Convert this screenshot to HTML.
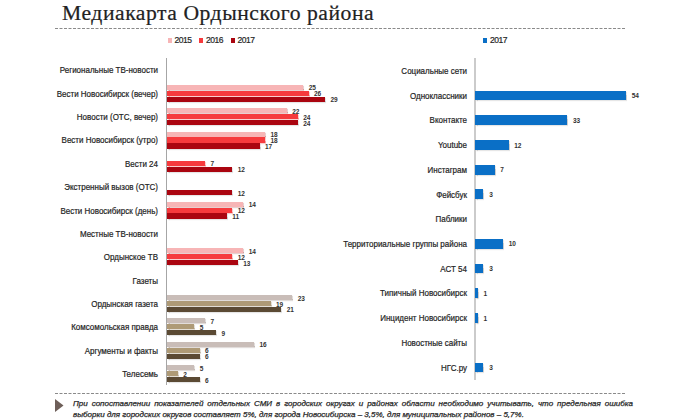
<!DOCTYPE html>
<html><head><meta charset="utf-8"><style>
html,body{margin:0;padding:0;background:#fff;}
body{width:680px;height:420px;position:relative;overflow:hidden;font-family:"Liberation Sans",sans-serif;color:#262626;}
div{position:absolute;}
.t{white-space:nowrap;line-height:1;}
.lab{transform:scaleX(0.94);transform-origin:100% 50%;color:#1e1e1e;-webkit-text-stroke:0.2px #1e1e1e;font-size:8.5px;text-align:right;width:200px;white-space:nowrap;line-height:10px;height:10px;}
.v{z-index:2;font-size:6.5px;line-height:8px;height:8px;white-space:nowrap;color:#333;font-weight:bold;letter-spacing:-0.1px;}
.b{box-shadow:0.5px 1px 1px rgba(0,0,0,0.2);}
</style></head><body>

<div class="t" style="left:62px;top:3.4px;font-family:'Liberation Serif',serif;font-size:20.5px;letter-spacing:0.5px;transform:scaleX(1.056);transform-origin:0 0;color:#222;-webkit-text-stroke:0.2px #222;">Медиакарта Ордынского района</div>
<svg width="680" height="420" style="position:absolute;left:0;top:0">
<line x1="55" y1="28.5" x2="626" y2="28.5" stroke="#8a8a8a" stroke-width="1" stroke-dasharray="3 1.5"/>
<line x1="55" y1="393.5" x2="626" y2="393.5" stroke="#8a8a8a" stroke-width="1" stroke-dasharray="3 1.5"/>
<polygon points="55,399 63.5,405.5 55,412" fill="#6e5f59"/>
</svg>
<div style="left:167.6px;top:38px;width:4.2px;height:4.6px;background:#f7b5b6"></div>
<div class="t" style="left:174.6px;top:36px;font-size:8.5px;letter-spacing:-0.5px;color:#262626;-webkit-text-stroke:0.2px #262626;">2015</div>
<div style="left:199px;top:38px;width:4.2px;height:4.6px;background:#f63a3d"></div>
<div class="t" style="left:206px;top:36px;font-size:8.5px;letter-spacing:-0.5px;color:#262626;-webkit-text-stroke:0.2px #262626;">2016</div>
<div style="left:230.6px;top:38px;width:4.2px;height:4.6px;background:#aa0510"></div>
<div class="t" style="left:237.6px;top:36px;font-size:8.5px;letter-spacing:-0.5px;color:#262626;-webkit-text-stroke:0.2px #262626;">2017</div>
<div style="left:483px;top:38px;width:4.2px;height:4.6px;background:#0a6fc6"></div>
<div class="t" style="left:490px;top:36px;font-size:8.5px;letter-spacing:-0.5px;color:#262626;-webkit-text-stroke:0.2px #262626;">2017</div>
<div style="left:166px;top:58px;width:1px;height:327px;background:#a6a6a6"></div>
<div style="left:474px;top:58px;width:2px;height:321.5px;background:#cbcbcb"></div>
<div class="lab" style="left:-42px;top:65.38px">Региональные ТВ-новости</div>
<div class="lab" style="left:-42px;top:88.74px">Вести Новосибирск (вечер)</div>
<div style="left:167px;top:84.79px;width:136.25px;height:5.1px;background:#f7b5b6;box-shadow:0.5px 1px 1px rgba(170,80,80,0.55)"></div>
<div class="v" style="left:308.65px;top:84.34px">25</div>
<div style="left:167px;top:90.74px;width:141.7px;height:5.1px;background:#f63a3d;box-shadow:0.5px 1px 1px rgba(235,90,90,0.6)"></div>
<div class="v" style="left:314.1px;top:90.29px">26</div>
<div style="left:167px;top:96.69px;width:158.05px;height:5.1px;background:#aa0510;box-shadow:0.5px 1px 1px rgba(0,0,0,0.2)"></div>
<div class="v" style="left:330.45px;top:96.24px">29</div>
<div class="lab" style="left:-42px;top:112.1px">Новости (ОТС, вечер)</div>
<div style="left:167px;top:108.15px;width:119.9px;height:5.1px;background:#f7b5b6;box-shadow:0.5px 1px 1px rgba(170,80,80,0.55)"></div>
<div class="v" style="left:292.3px;top:107.7px">22</div>
<div style="left:167px;top:114.1px;width:130.8px;height:5.1px;background:#f63a3d;box-shadow:0.5px 1px 1px rgba(235,90,90,0.6)"></div>
<div class="v" style="left:303.2px;top:113.65px">24</div>
<div style="left:167px;top:120.05px;width:130.8px;height:5.1px;background:#aa0510;box-shadow:0.5px 1px 1px rgba(0,0,0,0.2)"></div>
<div class="v" style="left:303.2px;top:119.6px">24</div>
<div class="lab" style="left:-42px;top:135.46px">Вести Новосибирск (утро)</div>
<div style="left:167px;top:131.51px;width:98.1px;height:5.1px;background:#f7b5b6;box-shadow:0.5px 1px 1px rgba(170,80,80,0.55)"></div>
<div class="v" style="left:270.5px;top:131.06px">18</div>
<div style="left:167px;top:137.46px;width:98.1px;height:5.1px;background:#f63a3d;box-shadow:0.5px 1px 1px rgba(235,90,90,0.6)"></div>
<div class="v" style="left:270.5px;top:137.01px">18</div>
<div style="left:167px;top:143.41px;width:92.65px;height:5.1px;background:#aa0510;box-shadow:0.5px 1px 1px rgba(0,0,0,0.2)"></div>
<div class="v" style="left:265.05px;top:142.96px">17</div>
<div class="lab" style="left:-42px;top:158.82px">Вести 24</div>
<div style="left:167px;top:160.82px;width:38.15px;height:5.1px;background:#f63a3d;box-shadow:0.5px 1px 1px rgba(235,90,90,0.6)"></div>
<div class="v" style="left:210.55px;top:160.37px">7</div>
<div style="left:167px;top:166.77px;width:65.4px;height:5.1px;background:#aa0510;box-shadow:0.5px 1px 1px rgba(0,0,0,0.2)"></div>
<div class="v" style="left:237.8px;top:166.32px">12</div>
<div class="lab" style="left:-42px;top:182.18px">Экстренный вызов (ОТС)</div>
<div style="left:167px;top:190.13px;width:65.4px;height:5.1px;background:#aa0510;box-shadow:0.5px 1px 1px rgba(0,0,0,0.2)"></div>
<div class="v" style="left:237.8px;top:189.68px">12</div>
<div class="lab" style="left:-42px;top:205.54px">Вести Новосибирск (день)</div>
<div style="left:167px;top:201.59px;width:76.3px;height:5.1px;background:#f7b5b6;box-shadow:0.5px 1px 1px rgba(170,80,80,0.55)"></div>
<div class="v" style="left:248.7px;top:201.14px">14</div>
<div style="left:167px;top:207.54px;width:65.4px;height:5.1px;background:#f63a3d;box-shadow:0.5px 1px 1px rgba(235,90,90,0.6)"></div>
<div class="v" style="left:237.8px;top:207.09px">12</div>
<div style="left:167px;top:213.49px;width:59.95px;height:5.1px;background:#aa0510;box-shadow:0.5px 1px 1px rgba(0,0,0,0.2)"></div>
<div class="v" style="left:232.35px;top:213.04px">11</div>
<div class="lab" style="left:-42px;top:228.9px">Местные ТВ-новости</div>
<div class="lab" style="left:-42px;top:252.26px">Ордынское ТВ</div>
<div style="left:167px;top:248.31px;width:76.3px;height:5.1px;background:#f7b5b6;box-shadow:0.5px 1px 1px rgba(170,80,80,0.55)"></div>
<div class="v" style="left:248.7px;top:247.86px">14</div>
<div style="left:167px;top:254.26px;width:65.4px;height:5.1px;background:#f63a3d;box-shadow:0.5px 1px 1px rgba(235,90,90,0.6)"></div>
<div class="v" style="left:237.8px;top:253.81px">12</div>
<div style="left:167px;top:260.21px;width:70.85px;height:5.1px;background:#aa0510;box-shadow:0.5px 1px 1px rgba(0,0,0,0.2)"></div>
<div class="v" style="left:243.25px;top:259.76px">13</div>
<div class="lab" style="left:-42px;top:275.62px">Газеты</div>
<div class="lab" style="left:-42px;top:298.98px">Ордынская газета</div>
<div style="left:167px;top:295.03px;width:125.35px;height:5.1px;background:#c9bdb8;box-shadow:0.5px 1px 1px rgba(120,100,90,0.45)"></div>
<div class="v" style="left:297.75px;top:294.58px">23</div>
<div style="left:167px;top:300.98px;width:103.55px;height:5.1px;background:#ae9a76;box-shadow:0.5px 1px 1px rgba(140,120,90,0.5)"></div>
<div class="v" style="left:275.95px;top:300.53px">19</div>
<div style="left:167px;top:306.93px;width:114.45px;height:5.1px;background:#5b4a34;box-shadow:0.5px 1px 1px rgba(0,0,0,0.2)"></div>
<div class="v" style="left:286.85px;top:306.48px">21</div>
<div class="lab" style="left:-42px;top:322.34px">Комсомольская правда</div>
<div style="left:167px;top:318.39px;width:38.15px;height:5.1px;background:#c9bdb8;box-shadow:0.5px 1px 1px rgba(120,100,90,0.45)"></div>
<div class="v" style="left:210.55px;top:317.94px">7</div>
<div style="left:167px;top:324.34px;width:27.25px;height:5.1px;background:#ae9a76;box-shadow:0.5px 1px 1px rgba(140,120,90,0.5)"></div>
<div class="v" style="left:199.65px;top:323.89px">5</div>
<div style="left:167px;top:330.29px;width:49.05px;height:5.1px;background:#5b4a34;box-shadow:0.5px 1px 1px rgba(0,0,0,0.2)"></div>
<div class="v" style="left:221.45px;top:329.84px">9</div>
<div class="lab" style="left:-42px;top:345.7px">Аргументы и факты</div>
<div style="left:167px;top:341.75px;width:87.2px;height:5.1px;background:#c9bdb8;box-shadow:0.5px 1px 1px rgba(120,100,90,0.45)"></div>
<div class="v" style="left:259.6px;top:341.3px">16</div>
<div style="left:167px;top:347.7px;width:32.7px;height:5.1px;background:#ae9a76;box-shadow:0.5px 1px 1px rgba(140,120,90,0.5)"></div>
<div class="v" style="left:205.1px;top:347.25px">6</div>
<div style="left:167px;top:353.65px;width:32.7px;height:5.1px;background:#5b4a34;box-shadow:0.5px 1px 1px rgba(0,0,0,0.2)"></div>
<div class="v" style="left:205.1px;top:353.2px">6</div>
<div class="lab" style="left:-42px;top:369.06px">Телесемь</div>
<div style="left:167px;top:365.11px;width:27.25px;height:5.1px;background:#c9bdb8;box-shadow:0.5px 1px 1px rgba(120,100,90,0.45)"></div>
<div class="v" style="left:199.65px;top:364.66px">5</div>
<div style="left:167px;top:371.06px;width:10.9px;height:5.1px;background:#ae9a76;box-shadow:0.5px 1px 1px rgba(140,120,90,0.5)"></div>
<div class="v" style="left:183.3px;top:370.61px">2</div>
<div style="left:167px;top:377.01px;width:32.7px;height:5.1px;background:#5b4a34;box-shadow:0.5px 1px 1px rgba(0,0,0,0.2)"></div>
<div class="v" style="left:205.1px;top:376.56px">6</div>
<div class="lab" style="left:267px;top:65.865px">Социальные сети</div>
<div class="lab" style="left:267px;top:90.595px">Одноклассники</div>
<div class="b" style="left:475px;top:90.545px;width:150.984px;height:9.8px;background:#0a6fc6"></div>
<div class="v" style="left:631.784px;top:92.095px">54</div>
<div class="lab" style="left:267px;top:115.325px">Вконтакте</div>
<div class="b" style="left:475px;top:115.275px;width:92.268px;height:9.8px;background:#0a6fc6"></div>
<div class="v" style="left:573.068px;top:116.825px">33</div>
<div class="lab" style="left:267px;top:140.055px">Youtube</div>
<div class="b" style="left:475px;top:140.005px;width:33.552px;height:9.8px;background:#0a6fc6"></div>
<div class="v" style="left:514.352px;top:141.555px">12</div>
<div class="lab" style="left:267px;top:164.785px">Инстаграм</div>
<div class="b" style="left:475px;top:164.735px;width:19.572px;height:9.8px;background:#0a6fc6"></div>
<div class="v" style="left:500.372px;top:166.285px">7</div>
<div class="lab" style="left:267px;top:189.515px">Фейсбук</div>
<div class="b" style="left:475px;top:189.465px;width:8.388px;height:9.8px;background:#0a6fc6"></div>
<div class="v" style="left:489.188px;top:191.015px">3</div>
<div class="lab" style="left:267px;top:214.245px">Паблики</div>
<div class="lab" style="left:267px;top:238.975px">Территориальные группы района</div>
<div class="b" style="left:475px;top:238.925px;width:27.96px;height:9.8px;background:#0a6fc6"></div>
<div class="v" style="left:508.76px;top:240.475px">10</div>
<div class="lab" style="left:267px;top:263.705px">АСТ 54</div>
<div class="b" style="left:475px;top:263.655px;width:8.388px;height:9.8px;background:#0a6fc6"></div>
<div class="v" style="left:489.188px;top:265.205px">3</div>
<div class="lab" style="left:267px;top:288.435px">Типичный Новосибирск</div>
<div class="b" style="left:475px;top:288.385px;width:2.796px;height:9.8px;background:#0a6fc6"></div>
<div class="v" style="left:483.596px;top:289.935px">1</div>
<div class="lab" style="left:267px;top:313.165px">Инцидент Новосибирск</div>
<div class="b" style="left:475px;top:313.115px;width:2.796px;height:9.8px;background:#0a6fc6"></div>
<div class="v" style="left:483.596px;top:314.665px">1</div>
<div class="lab" style="left:267px;top:337.895px">Новостные сайты</div>
<div class="lab" style="left:267px;top:362.625px">НГС.ру</div>
<div class="b" style="left:475px;top:362.575px;width:8.388px;height:9.8px;background:#0a6fc6"></div>
<div class="v" style="left:489.188px;top:364.125px">3</div>
<div style="left:73px;top:399px;width:560px;font-size:8px;line-height:10px;font-style:italic;color:#262626;-webkit-text-stroke:0.25px #262626;white-space:nowrap;text-align:justify;text-align-last:justify;">При сопоставлении показателей отдельных СМИ в городских округах и районах области необходимо учитывать, что предельная ошибка</div>
<div style="left:73px;top:409.5px;font-size:8px;line-height:10px;font-style:italic;color:#262626;-webkit-text-stroke:0.25px #262626;white-space:nowrap;">выборки для городских округов составляет 5%, для города Новосибирска – 3,5%, для муниципальных районов – 5,7%.</div>
</body></html>
